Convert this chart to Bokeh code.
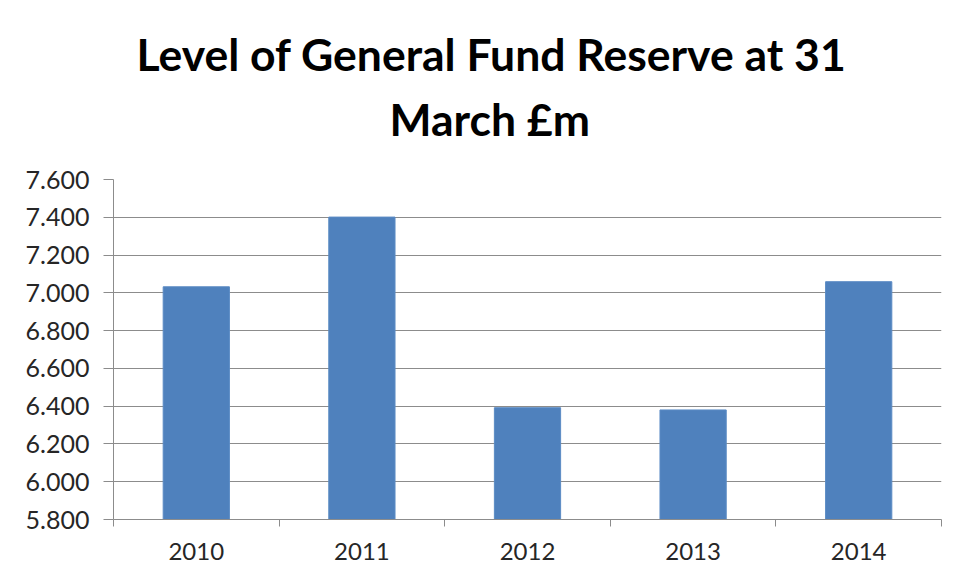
from bokeh.plotting import figure
from bokeh.models import FixedTicker, NumeralTickFormatter, Title, Range1d, ColumnDataSource, LinearAxis
from bokeh.embed import file_html
from bokeh.resources import INLINE

# ---- data ----
years = ["2010", "2011", "2012", "2013", "2014"]
reserve = [7.032, 7.401, 6.392, 6.380, 7.059]
y_ticks = [5.8, 6.0, 6.2, 6.4, 6.6, 6.8, 7.0, 7.2, 7.4, 7.6]
title_line1 = "Level of General Fund Reserve at 31"
title_line2 = "March £m"

FONT = "Lato"
TXT = "#262626"
GRID = "#8c8c8c"

idx = list(range(len(years)))
src = ColumnDataSource(dict(x=idx, year=years, value=reserve))

p = figure(width=942, height=565, output_backend="svg", toolbar_location=None,
           x_range=Range1d(-0.5, len(years) - 0.5), y_range=Range1d(y_ticks[0], y_ticks[-1]),
           x_axis_location=None, y_axis_location=None, title=None,
           min_border_left=113, min_border_right=1, min_border_top=179, min_border_bottom=46)
p.outline_line_color = None
p.background_fill_color = "white"
p.border_fill_color = "white"

p.vbar(x="x", top="value", bottom=y_ticks[0], width=0.4, source=src,
       fill_color="#4F81BD", line_color="#5B8BC4")

# y axis
yax = LinearAxis(ticker=FixedTicker(ticks=y_ticks), formatter=NumeralTickFormatter(format="0.000"))
yax.axis_line_color = GRID
yax.major_tick_line_color = GRID
yax.major_tick_in = 0
yax.major_tick_out = 10
yax.minor_tick_line_color = None
yax.major_label_standoff = 14
yax.major_label_text_font = FONT
yax.major_label_text_font_size = "25px"
yax.major_label_text_color = TXT
p.add_layout(yax, "left")

# x axis: labels at category centres, ticks at category boundaries
xax = LinearAxis(ticker=FixedTicker(ticks=idx, minor_ticks=[i - 0.5 for i in range(len(years) + 1)]))
xax.major_label_overrides = {i: y for i, y in zip(idx, years)}
xax.axis_line_color = GRID
xax.major_tick_line_color = None
xax.major_tick_in = 0
xax.major_tick_out = 0
xax.minor_tick_line_color = GRID
xax.minor_tick_in = 0
xax.minor_tick_out = 7
xax.major_label_standoff = 16
xax.major_label_text_font = FONT
xax.major_label_text_font_size = "24px"
xax.major_label_text_color = TXT
p.add_layout(xax, "below")

p.xgrid.visible = False
p.ygrid.ticker = FixedTicker(ticks=y_ticks)
p.ygrid.grid_line_color = GRID
p.ygrid.grid_line_width = 1

# title: two lines stacked above the plot area (first added sits closest to it)
spacer = Title(text=" ", text_font=FONT, text_font_size="15px")
t2 = Title(text=title_line2, align="left", offset=276, text_font=FONT, text_font_style="bold",
           text_font_size="44.5px", text_color="black", text_line_height=0.8)
t1 = Title(text=title_line1, align="left", offset=23, text_font=FONT, text_font_style="bold",
           text_font_size="44.5px", text_color="black", text_line_height=0.8)
p.add_layout(spacer, "above")
p.add_layout(t2, "above")
p.add_layout(t1, "above")

open("out.html", "w").write(file_html(p, INLINE))
